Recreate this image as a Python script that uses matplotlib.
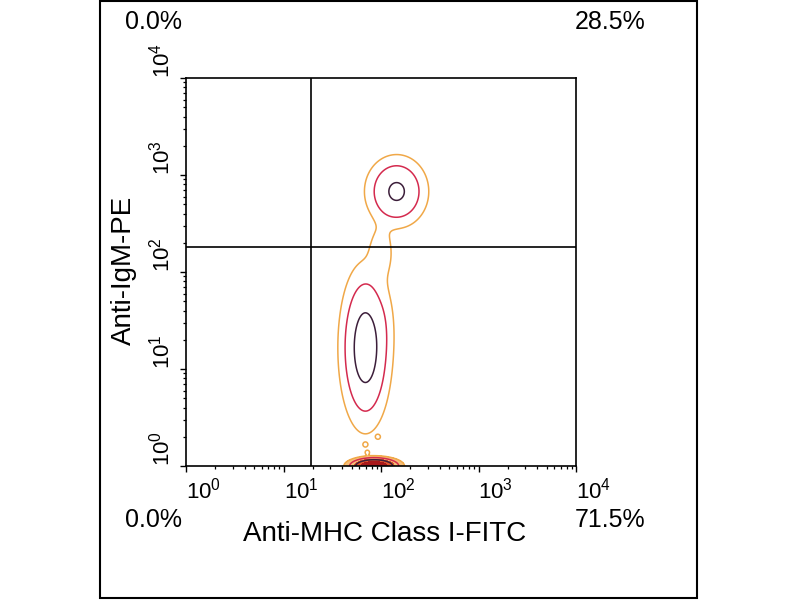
import numpy as np
import matplotlib
matplotlib.use('Agg')
import matplotlib.pyplot as plt
from matplotlib.patches import Rectangle

plt.rcParams['font.family'] = ['Liberation Sans', 'DejaVu Sans']
plt.rcParams['mathtext.default'] = 'regular'

# ---- data (log10 / decade units) ----
cluster_names = ['IgM+ MHC+', 'IgM- MHC+', 'bridge', 'side', 'axis pile-up',
                 'stray 1', 'stray 2', 'stray 3']
cluster_x = [2.16, 1.84, 2.0, 2.03, 1.93, 1.97, 1.84, 1.86]
cluster_y = [2.83, 1.22, 2.2, 1.45, 0.00, 0.30, 0.22, 0.14]
cluster_sx = [0.13, 0.105, 0.08, 0.06, 0.10, 0.018, 0.018, 0.018]
cluster_sy = [0.15, 0.33, 0.18, 0.22, 0.034, 0.018, 0.018, 0.018]
cluster_w = [1.0, 1.5, 0.09, 0.06, 5.0, 0.07, 0.07, 0.07]

contour_levels = [0.04, 0.21, 0.83]
contour_colors = ['#F0A848', '#D42A4E', '#3C1E3A']
pileup_levels = [0.04, 0.6, 2.0, 1000.0]
pileup_colors = ['#F6BE78', '#E2552C', '#A8181A']

quadrant_x = 19
quadrant_y = 180
quadrant_pct = ['0.0%', '28.5%', '0.0%', '71.5%']

decades = [0, 1, 2, 3, 4]
tick_labels = [r'$10^{%d}$' % d for d in decades]
x_label = 'Anti-MHC Class I-FITC'
y_label = 'Anti-IgM-PE'

# ---- figure ----
W, H = 800, 600
fig = plt.figure(figsize=(8, 6), dpi=100)

def fx(px):
    return px / W

def fy(py):
    return 1 - py / H

ax = fig.add_axes([fx(186), fy(466), fx(576) - fx(186), fy(78) - fy(466)])

# density grid on log axes
g = np.linspace(0, 4, 600)
LX, LY = np.meshgrid(g, g)
dens = np.zeros_like(LX)
pile = np.zeros_like(LX)
for n, cx, cy, sx, sy, w in zip(cluster_names, cluster_x, cluster_y,
                                cluster_sx, cluster_sy, cluster_w):
    comp = w * np.exp(-0.5 * (((LX - cx) / sx) ** 2 + ((LY - cy) / sy) ** 2))
    dens += comp
    if n == 'axis pile-up':
        pile += comp

X = 10 ** LX
Y = 10 ** LY
ax.contourf(X, Y, pile, levels=pileup_levels, colors=pileup_colors)
ax.contour(X, Y, dens, levels=contour_levels, colors=contour_colors,
           linewidths=1.1)

ax.axvline(quadrant_x, color='black', lw=1.2)
ax.axhline(quadrant_y, color='black', lw=1.2)

ax.set_xscale('log')
ax.set_yscale('log')
ax.set_xlim(1, 1e4)
ax.set_ylim(1, 1e4)
for s in ax.spines.values():
    s.set_linewidth(1.2)

ax.set_xticks([10 ** d for d in decades])
ax.set_xticklabels(tick_labels, ha='left', fontsize=16)
ax.set_yticks([10 ** d for d in decades])
ax.set_yticklabels(tick_labels, rotation=90, va='bottom', fontsize=16)
ax.tick_params(which='major', direction='out', length=4, width=1.0, pad=4)
ax.tick_params(which='minor', direction='out', length=2.2, width=0.9)
ax.tick_params(axis='y', which='major', pad=4)

# quadrant percentages
fig.text(fx(154), fy(22), quadrant_pct[0], ha='center', va='center', fontsize=18)
fig.text(fx(610), fy(22), quadrant_pct[1], ha='center', va='center', fontsize=18)
fig.text(fx(154), fy(520), quadrant_pct[2], ha='center', va='center', fontsize=18)
fig.text(fx(610), fy(520), quadrant_pct[3], ha='center', va='center', fontsize=18)

fig.text(fx(385), fy(534), x_label, ha='center', va='center', fontsize=20)
fig.text(fx(124), fy(270), y_label, ha='center', va='center', rotation=90,
         fontsize=20)

fig.patches.append(Rectangle((fx(100), fy(598)), fx(697) - fx(100),
                             fy(1) - fy(598), transform=fig.transFigure,
                             fill=False, ec='black', lw=1.5))

fig.savefig('out.png', dpi=100)
